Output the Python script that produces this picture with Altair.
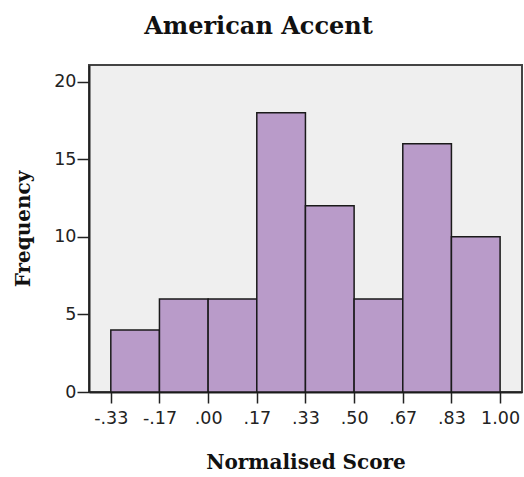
import altair as alt
import pandas as pd

bin_starts = [-0.3333, -0.1667, 0.0, 0.1667, 0.3333, 0.5, 0.6667, 0.8333]
bin_ends = [-0.1667, 0.0, 0.1667, 0.3333, 0.5, 0.6667, 0.8333, 1.0]
counts = [4, 6, 6, 18, 12, 6, 16, 10]
tick_values = [-0.3333, -0.1667, 0.0, 0.1667, 0.3333, 0.5, 0.6667, 0.8333, 1.0]
tick_labels = ["-.33", "-.17", ".00", ".17", ".33", ".50", ".67", ".83", "1.00"]
y_ticks = [0, 5, 10, 15, 20]

df = pd.DataFrame({"start": bin_starts, "end": bin_ends, "count": counts})

label_array = "[" + ",".join('"%s"' % s for s in tick_labels) + "]"
label_expr = label_array + "[round((datum.value + 0.3333) * 6)]"

serif = "DejaVu Serif"
sans = "DejaVu Sans"

chart = alt.Chart(df).mark_bar(
    color="#b99bc9", stroke="#1a1a1a", strokeWidth=1.5
).encode(
    x=alt.X("start:Q", scale=alt.Scale(domain=[-0.408, 1.075], nice=False, zero=False),
            axis=alt.Axis(values=tick_values, labelExpr=label_expr, title="Normalised Score",
                          grid=False, tickSize=11, tickWidth=1.5, tickColor="#222",
                          domainColor="#222", domainWidth=2,
                          labelFont=sans, labelFontSize=17.5, labelColor="#222", labelPadding=6,
                          titleFont=serif, titleFontSize=20, titleFontWeight="bold",
                          titleColor="#111", titlePadding=26)),
    x2="end:Q",
    y=alt.Y("count:Q", scale=alt.Scale(domain=[0, 21.07], nice=False),
            axis=alt.Axis(values=y_ticks, title="Frequency", grid=False,
                          tickSize=12, tickWidth=1.5, tickColor="#222",
                          domainColor="#222", domainWidth=2,
                          labelFont=sans, labelFontSize=17.5, labelColor="#222", labelPadding=1,
                          titleFont=serif, titleFontSize=20, titleFontWeight="bold",
                          titleColor="#111", titlePadding=20)),
    y2=alt.datum(0),
).properties(
    width=433,
    height=327,
    background="white",
    title=alt.TitleParams("American Accent", font=serif, fontSize=24, fontWeight="bold",
                          color="#111", dx=-47, offset=26),
    autosize=alt.AutoSizeParams(type="none"),
    padding={"left": 89, "top": 65, "right": 2, "bottom": 85},
).configure_view(
    fill="#efefef", stroke="#444444", strokeWidth=2
)

chart.save("out.html", embed_options={"renderer": "svg", "actions": False})
